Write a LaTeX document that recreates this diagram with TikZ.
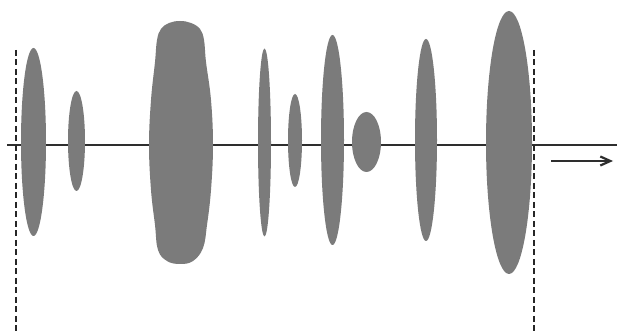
\documentclass[tikz,border=0pt]{standalone}
\usetikzlibrary{shapes.geometric,arrows.meta}
\definecolor{blobgray}{HTML}{7B7B7B}
\definecolor{axisgray}{HTML}{2E2E2E}
\begin{document}
\begin{tikzpicture}[x=1pt,y=-1pt,
  blob/.style={ellipse,fill=blobgray,draw=none,inner sep=0pt},
  axisline/.style={draw=axisgray,line width=2.8pt},
  borderline/.style={draw=black!85,line width=2.4pt,dash pattern=on 6pt off 3.5pt},
  dirarrow/.style={draw=axisgray,line width=2.2pt,-{Straight Barb[length=10pt,width=9pt]}}]
\useasboundingbox (0,0) rectangle (627,331);
\fill[white] (0,0) rectangle (627,331);
% axis
\coordinate (axL) at (7,145);
\coordinate (axR) at (617,145);
\draw[axisline] (axL) -- (axR);
% blobs
\node[blob,minimum width=25pt,minimum height=188pt] (e1) at (33.5,142) {};
\node[blob,minimum width=17pt,minimum height=100pt] (e2) at (76.5,141) {};
\fill[blobgray] plot[smooth cycle,tension=0.65] coordinates {
 (180,21) (191,23) (200,29) (204,40) (206,62) (211,100) (213,145) (211,190) (207,225)
 (203,248) (193,261) (180,264) (167,261) (158,250) (155,225) (151,190)
 (149,145) (151,100) (155,62) (157,40) (161,29) (169,23)};
\node (e3) at (181,142) {};
\node[blob,minimum width=13pt,minimum height=188pt] (e4) at (264.5,142.5) {};
\node[blob,minimum width=14pt,minimum height=93pt] (e5) at (295,140.5) {};
\node[blob,minimum width=23pt,minimum height=210pt] (e6) at (332.5,140) {};
\node[blob,minimum width=29pt,minimum height=60pt] (e7) at (366.5,142) {};
\node[blob,minimum width=22pt,minimum height=202pt] (e8) at (426,140) {};
\node[blob,minimum width=46pt,minimum height=263pt] (e9) at (509,142.5) {};
% boundaries
\coordinate (lt) at (16,50);
\coordinate (lb) at (16,331);
\coordinate (rt) at (534,50);
\coordinate (rb) at (534,331);
\draw[borderline] (lt) -- (lb);
\draw[borderline] (rt) -- (rb);
% direction arrow
\coordinate (a1) at (551,161);
\coordinate (a2) at (613,161);
\draw[dirarrow] (a1) -- (a2);
\end{tikzpicture}
\end{document}
